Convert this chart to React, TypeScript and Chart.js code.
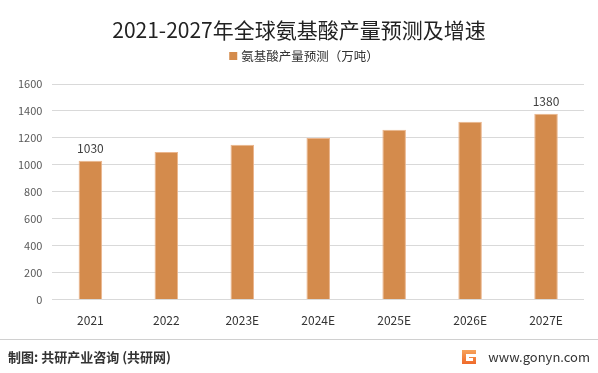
import React, { useEffect, useRef } from "react";
import { Chart, registerables } from "chart.js";

Chart.register(...registerables);

const categories = ["2021", "2022", "2023E", "2024E", "2025E", "2026E", "2027E"];
const production = [1030, 1095, 1150, 1200, 1260, 1320, 1380];
const shownLabels = [true, false, false, false, false, false, true];
const yTicks = [0, 200, 400, 600, 800, 1000, 1200, 1400, 1600];
const titleText = "2021-2027年全球氨基酸产量预测及增速";
const seriesName = "氨基酸产量预测（万吨）";
const sourceText = "制图: 共研产业咨询 (共研网)";
const siteText = "www.gonyn.com";

const FONT = "'Noto Sans CJK SC', 'Noto Sans', sans-serif";
const BAR_COLOR = "#D48B4C";

const extrasPlugin = {
  id: "extras",
  afterDatasetsDraw(chart: any) {
    const ctx = chart.ctx;
    const meta = chart.getDatasetMeta(0);
    ctx.save();
    ctx.font = `12px ${FONT}`;
    ctx.fillStyle = "#404040";
    ctx.textAlign = "center";
    ctx.textBaseline = "bottom";
    meta.data.forEach((bar: any, i: number) => {
      if (shownLabels[i]) ctx.fillText(String(production[i]), bar.x, bar.y - 6);
    });
    ctx.restore();
  },
  afterDraw(chart: any) {
    const ctx = chart.ctx;
    const w = chart.width;
    ctx.save();
    // title
    ctx.font = `21px ${FONT}`;
    ctx.fillStyle = "#222222";
    ctx.textAlign = "center";
    ctx.textBaseline = "middle";
    ctx.fillText(titleText, 299, 30);
    // legend
    ctx.font = `12.5px ${FONT}`;
    const tw = ctx.measureText(seriesName).width;
    const total = 8 + 4 + tw;
    const lx0 = 304 - total / 2;
    ctx.fillStyle = BAR_COLOR;
    ctx.fillRect(lx0, 52, 8, 8);
    ctx.fillStyle = "#333333";
    ctx.textAlign = "left";
    ctx.fillText(seriesName, lx0 + 12, 56.5);
    // footer
    ctx.strokeStyle = "#d0d0d0";
    ctx.lineWidth = 1;
    ctx.beginPath();
    ctx.moveTo(0, 339.5);
    ctx.lineTo(w, 339.5);
    ctx.stroke();
    ctx.font = `bold 13px ${FONT}`;
    ctx.fillStyle = "#333333";
    ctx.textAlign = "left";
    ctx.textBaseline = "middle";
    ctx.fillText(sourceText, 8, 357);
    ctx.font = `13px ${FONT}`;
    ctx.textAlign = "right";
    ctx.fillText(siteText, 590, 357);
    // logo
    const lx = 462, ly = 350;
    const g = ctx.createLinearGradient(lx, ly, lx, ly + 14);
    g.addColorStop(0, "#f7a35c");
    g.addColorStop(1, "#f06a2a");
    ctx.fillStyle = g;
    ctx.fillRect(lx, ly, 14, 14);
    ctx.fillStyle = "#ffffff";
    ctx.fillRect(lx + 4, ly + 4, 10, 3);
    ctx.fillRect(lx + 4, ly + 7, 3, 4);
    ctx.fillRect(lx + 7, ly + 8, 4, 3);
    ctx.restore();
  },
};

export default function App() {
  const ref = useRef<HTMLCanvasElement | null>(null);
  useEffect(() => {
    if (!ref.current) return;
    const chart = new Chart(ref.current, {
      type: "bar",
      data: {
        labels: categories,
        datasets: [
          {
            label: seriesName,
            data: production,
            backgroundColor: BAR_COLOR,
            borderColor: "#EBB58C",
            borderWidth: 1,
            categoryPercentage: 1,
            barPercentage: 0.31,
          },
        ],
      },
      options: {
        responsive: false,
        animation: false,
        layout: { padding: { left: 8, right: 14, top: 84, bottom: 39 } },
        plugins: {
          title: { display: false },
          legend: { display: false },
          tooltip: { enabled: false },
        },
        scales: {
          x: {
            grid: { display: false },
            border: { display: false },
            ticks: { color: "#333333", font: { family: FONT, size: 12 }, padding: 6 },
          },
          y: {
            min: 0,
            max: 1600,
            afterBuildTicks: (axis: any) => {
              axis.ticks = yTicks.map((v) => ({ value: v }));
            },
            grid: { color: "#d9d9d9", drawTicks: false },
            border: { display: false },
            ticks: {
              color: "#595959",
              font: { family: FONT, size: 11 },
              padding: 10,
              callback: (v: any) => String(v),
            },
          },
        },
      },
      plugins: [extrasPlugin],
    });
    return () => chart.destroy();
  }, []);
  return (
    <div style={{ position: "fixed", left: 0, top: 0, width: 598, height: 373, background: "#ffffff" }}>
      <canvas ref={ref} width={598} height={373} style={{ display: "block" }} />
    </div>
  );
}
